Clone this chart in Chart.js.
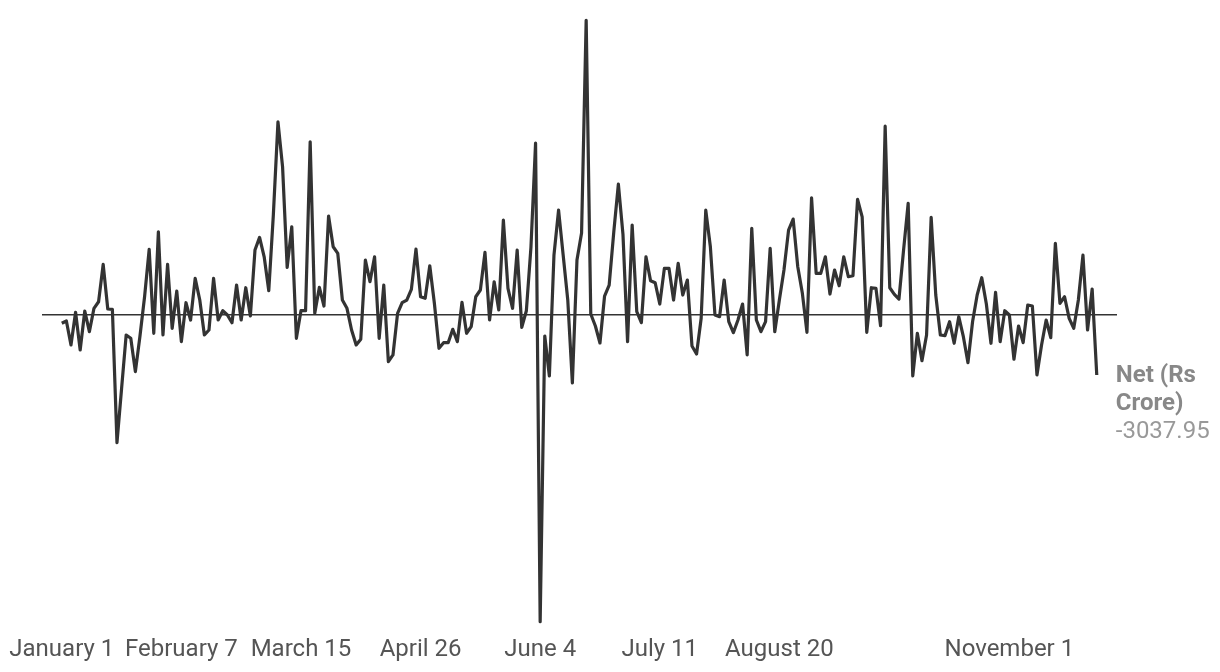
<!DOCTYPE html>
<html>
<head>
<meta charset="utf-8">
<script src="https://cdn.jsdelivr.net/npm/chart.js@4/dist/chart.umd.min.js"></script>
<style>
    html, body { margin: 0; padding: 0; background: #fff; }
    .chart-box { width: 1220px; height: 672px; }
</style>
</head>
<body>
<div class="chart-box"><canvas id="net-chart"></canvas></div>
<script>
// daily net flows (Rs crore), one value per trading day
const netValues = [
    -450, -335, -1535, 100, -1785, 165, -870, 300, 630, 2500,
    265, 250, -6420, -3720, -1035, -1200, -2870, -1085, 880, 3250,
    -950, 4130, -1035, 2500, -700, 1165, -1370, 580, -285, 1800,
    715, -1035, -785, 1800, -285, 180, -35, -420, 1465, -285,
    1330, -85, 3215, 3850, 2880, 1180, 5000, 9630, 7380, 2350,
    4380, -1200, 180, 180, 8630, 50, 1350, 415, 4915, 3380,
    3050, 715, 300, -785, -1535, -1250, 2715, 1630, 2880, -1200,
    1465, -2370, -2035, 50, 580, 715, 1250, 3265, 880, 800,
    2430, 550, -1700, -1420, -1420, -750, -1370, 600, -950, -620,
    880, 1215, 3100, -285, 1630, 215, 4715, 1300, 300, 3215,
    -650, 180, 3380, 8565, -15385, -1085, -3085, 2965, 5215, 2965,
    715, -3435, 2715, 4065, 14715, 15, -585, -1435, 915, 1465,
    4115, 6515, 4000, -1370, 4465, 130, -420, 2880, 1680, 1580,
    515, 2300, 2300, 715, 2550, 965, 1715, -1585, -1985, -200,
    5215, 3380, -35, -120, 1715, -370, -920, -285, 515, -2035,
    4300, -285, -870, -370, 3300, -870, 715, 2215, 4215, 4765,
    2380, 1050, -900, 5830, 2050, 2050, 2880, 1015, 2215, 1430,
    2880, 1880, 1930, 5750, 4880, -900, 1330, 1300, -570, 9415,
    1330, 1000, 765, 3215, 5550, -3085, -950, -2320, -1035, 4850,
    965, -1035, -1070, -370, -1450, -120, -1120, -2420, -370, 965,
    1830, 515, -1450, 1100, -1370, 180, -35, -2250, -585, -1420,
    465, 415, -3035, -1535, -285, -1170, 3550, 550, 880, -200,
    -700, 715, 2965, -785, 1265, -3037.95
];

// which day index each date label sits on
const tickIndex = [0, 26, 52, 78, 104, 130, 156, 206];
const tickLabels = ['January 1', 'February 7', 'March 15', 'April 26', 'June 4', 'July 11', 'August 20', 'November 1'];

const seriesName = ['Net (Rs', 'Crore)'];

let points = netValues.map((v, i) => ({ x: i, y: v }));

// label next to the last point
const endLabel = {
    id: 'endLabel',
    afterDatasetsDraw(chart) {
        let meta = chart.getDatasetMeta(0);
        let last = meta.data[meta.data.length - 1];
        let ctx = chart.ctx;
        let x = last.x + 19;
        let y = last.y + 1;
        ctx.save();
        ctx.textAlign = 'left';
        ctx.textBaseline = 'middle';
        ctx.font = 'bold 24px Roboto';
        ctx.fillStyle = '#888';
        seriesName.forEach((line, k) => {
            ctx.fillText(line, x, y + k * 28);
        });
        ctx.font = '24px Roboto';
        ctx.fillStyle = '#999';
        ctx.fillText(netValues[netValues.length - 1].toFixed(2), x, y + seriesName.length * 28);
        ctx.restore();
    }
};

let netChart = document.getElementById('net-chart').getContext('2d');

let chart = new Chart(netChart, {
    type: 'line',
    data: {
        datasets: [{
            label: 'Net (Rs Crore)',
            data: points,
            borderColor: '#333',
            borderWidth: 3.2,
            borderJoinStyle: 'round',
            pointRadius: 0,
            fill: false,
            tension: 0
        }]
    },
    options: {
        responsive: true,
        maintainAspectRatio: false,
        animation: false,
        layout: {
            padding: { left: 42, right: 103, top: 10, bottom: 6 }
        },
        plugins: {
            legend: { display: false },
            tooltip: { enabled: false }
        },
        scales: {
            x: {
                type: 'linear',
                min: -4.3,
                max: 229.4,
                grid: { display: false, drawTicks: false },
                border: { display: false },
                afterBuildTicks: (axis) => {
                    axis.ticks = tickIndex.map(v => ({ value: v }));
                },
                afterFit: (axis) => {
                    axis.height = 36;
                },
                ticks: {
                    autoSkip: false,
                    maxRotation: 0,
                    padding: 6,
                    color: '#555',
                    font: { family: 'Roboto', size: 24 },
                    callback: (value) => tickLabels[tickIndex.indexOf(value)]
                }
            },
            y: {
                min: -15800,
                max: 15230,
                border: { display: false },
                afterBuildTicks: (axis) => {
                    axis.ticks = [{ value: 0 }];
                },
                grid: {
                    drawTicks: false,
                    color: '#333',
                    lineWidth: 1.5
                },
                ticks: { display: false }
            }
        }
    },
    plugins: [endLabel]
});
</script>
</body>
</html>
